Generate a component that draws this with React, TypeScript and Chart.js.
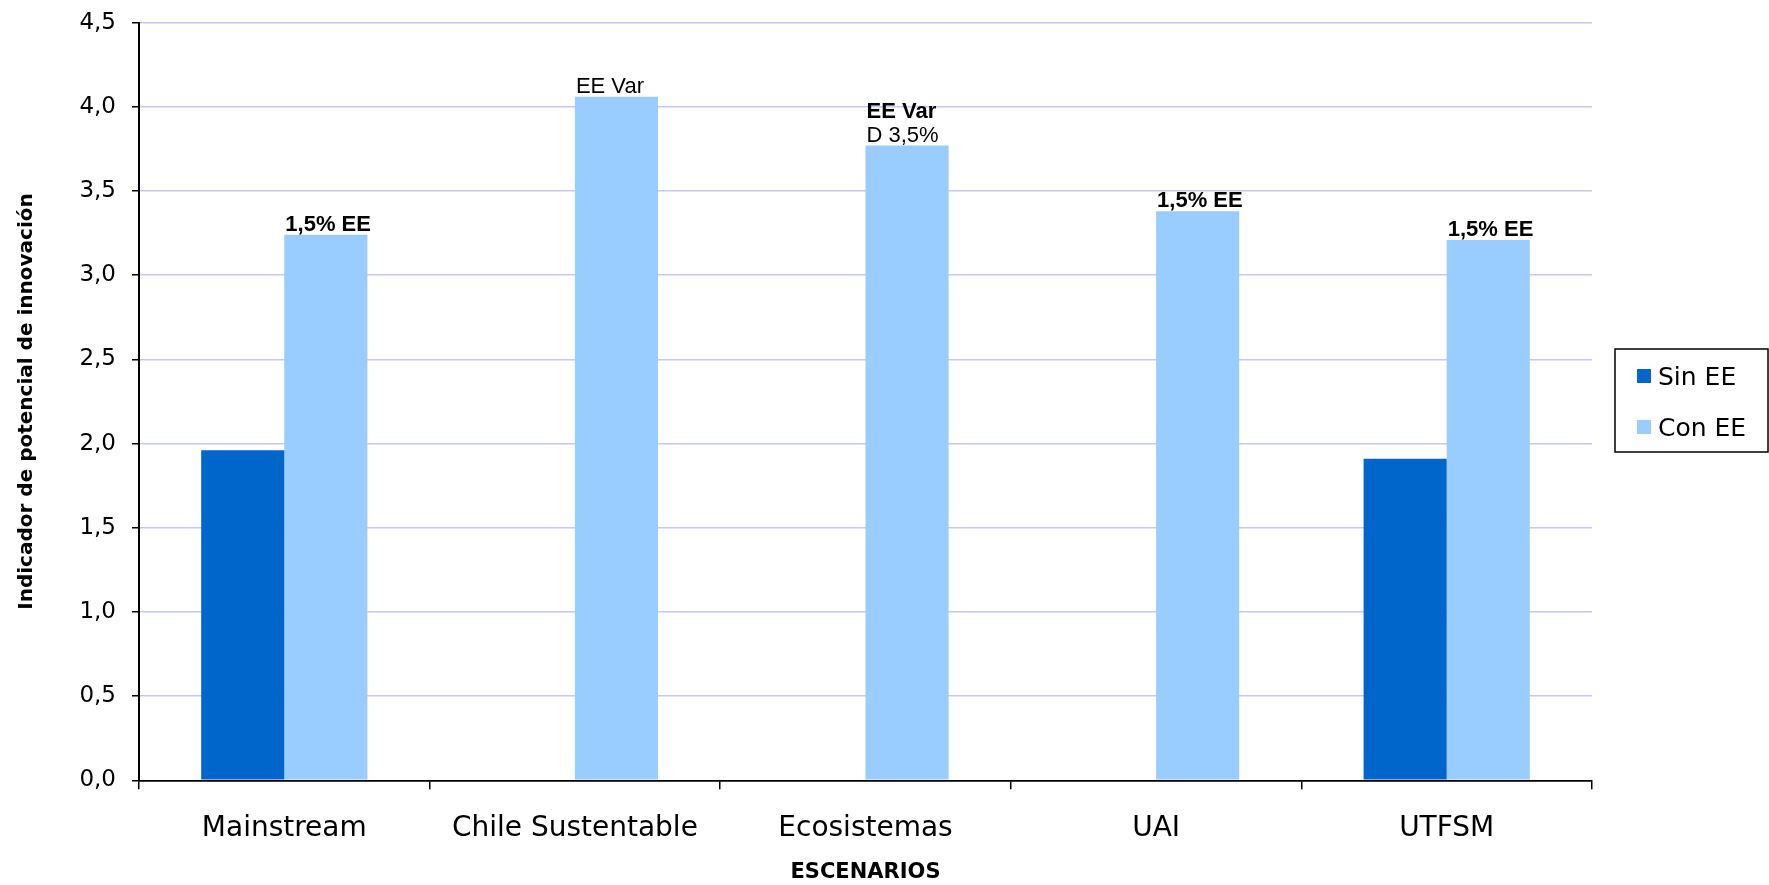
import React, { useEffect, useRef } from "react";
import { Chart, registerables } from "chart.js";

Chart.register(...registerables);

// ---- data ----
const categories = ["Mainstream", "Chile Sustentable", "Ecosistemas", "UAI", "UTFSM"];
const sinEE: (number | null)[] = [1.96, null, null, null, 1.91];
const conEE: number[] = [3.24, 4.06, 3.77, 3.38, 3.21];
const conLabels: string[][] = [["1,5% EE"], ["EE Var"], ["EE Var", "D 3,5%"], ["1,5% EE"], ["1,5% EE"]];
const conLabelBold: boolean[][] = [[true], [false], [true, false], [true], [true]];
const seriesNames = ["Sin EE", "Con EE"];
const seriesColors = ["#0066CC", "#99CCFF"];
const yMin = 0;
const yMax = 4.5;
const yStep = 0.5;
const yTitle = "Indicador de potencial de innovación";
const xTitle = "ESCENARIOS";

const FONT = '"DejaVu Sans"';
const LABEL_FONT = '"Liberation Sans", Arial, sans-serif';

const barLabelPlugin = {
  id: "barLabels",
  afterDatasetsDraw(chart: any) {
    const meta = chart.getDatasetMeta(1);
    const ctx = chart.ctx;
    ctx.save();
    ctx.fillStyle = "#000";
    ctx.textAlign = "left";
    ctx.textBaseline = "alphabetic";
    meta.data.forEach((bar: any, i: number) => {
      const { x, y, width } = bar.getProps(["x", "y", "width"], true);
      const lines = conLabels[i] || [];
      const left = x - width / 2;
      for (let j = lines.length - 1; j >= 0; j--) {
        const k = lines.length - 1 - j;
        ctx.font = `${conLabelBold[i][j] ? "bold " : ""}22px ${LABEL_FONT}`;
        ctx.fillText(lines[j], left + 1, y - 4 - k * 24);
      }
    });
    ctx.restore();
  },
};

const boxLegendPlugin = {
  id: "boxLegend",
  afterDraw(chart: any) {
    const ctx = chart.ctx;
    const area = chart.chartArea;
    const bx = area.right + 23;
    const by = 349;
    const bw = 153;
    const bh = 103;
    ctx.save();
    ctx.fillStyle = "#fff";
    ctx.fillRect(bx, by, bw, bh);
    ctx.strokeStyle = "#000";
    ctx.lineWidth = 1.5;
    ctx.strokeRect(bx, by, bw, bh);
    ctx.font = `25px ${FONT}`;
    ctx.textAlign = "left";
    ctx.textBaseline = "alphabetic";
    seriesNames.forEach((name, i) => {
      const rowY = by + 20 + i * 51;
      ctx.fillStyle = seriesColors[i];
      ctx.fillRect(bx + 22, rowY, 14, 14);
      ctx.fillStyle = "#000";
      ctx.fillText(name, bx + 43, rowY + 16);
    });
    ctx.restore();
  },
};

export default function App() {
  const canvasRef = useRef<HTMLCanvasElement | null>(null);

  useEffect(() => {
    if (!canvasRef.current) return;
    const chart = new Chart(canvasRef.current, {
      type: "bar",
      data: {
        labels: categories,
        datasets: [
          {
            label: seriesNames[0],
            data: sinEE,
            backgroundColor: seriesColors[0],
            borderWidth: 0,
            categoryPercentage: 0.572,
            barPercentage: 1,
          },
          {
            label: seriesNames[1],
            data: conEE,
            backgroundColor: seriesColors[1],
            borderWidth: 0,
            categoryPercentage: 0.572,
            barPercentage: 1,
          },
        ],
      },
      options: {
        responsive: false,
        animation: false,
        layout: { padding: { left: 0, right: 177, top: 22.7, bottom: 0 } },
        plugins: {
          legend: { display: false },
          tooltip: { enabled: false },
        },
        scales: {
          x: {
            offset: true,
            grid: {
              offset: true,
              drawOnChartArea: false,
              drawTicks: true,
              tickLength: 9,
              tickColor: "#000",
              tickWidth: 1.5,
              lineWidth: 1.5,
              color: "#000",
            },
            border: { display: true, color: "#000", width: 1.5 },
            ticks: {
              color: "#000",
              font: { family: "DejaVu Sans", size: 28 },
              padding: 23,
              maxRotation: 0,
              autoSkip: false,
            },
            title: {
              display: true,
              text: xTitle,
              color: "#000",
              font: { family: "DejaVu Sans", size: 21, weight: "bold" },
              padding: { top: 0, bottom: 0 },
            },
            afterFit(scale: any) {
              scale.height = 885 - 780.3;
            },
          },
          y: {
            min: yMin,
            max: yMax,
            grid: {
              color: (c: any) => (c.tick && c.tick.value === 0 ? "#000" : "#c8c8f2"),
              lineWidth: 1.5,
              drawTicks: true,
              tickLength: 7,
              tickColor: "#000",
              tickWidth: 1.5,
            },
            border: { display: true, color: "#000", width: 2 },
            ticks: {
              stepSize: yStep,
              color: "#000",
              font: { family: "DejaVu Sans", size: 23 },
              padding: 16,
              callback: (v: any) => Number(v).toFixed(1).replace(".", ","),
            },
            title: {
              display: true,
              text: yTitle,
              color: "#000",
              font: { family: "DejaVu Sans", size: 20, weight: "bold" },
              padding: { top: 15, bottom: 0 },
            },
            afterFit(scale: any) {
              scale.width = 139;
              scale.paddingTop = 0;
              scale.paddingBottom = 0;
            },
          },
        },
      },
      plugins: [barLabelPlugin, boxLegendPlugin],
    });
    return () => chart.destroy();
  }, []);

  return (
    <div style={{ position: "fixed", left: 0, top: 0, width: 1769, height: 885, background: "#fff" }}>
      <canvas ref={canvasRef} width={1769} height={885} style={{ display: "block" }} />
    </div>
  );
}
